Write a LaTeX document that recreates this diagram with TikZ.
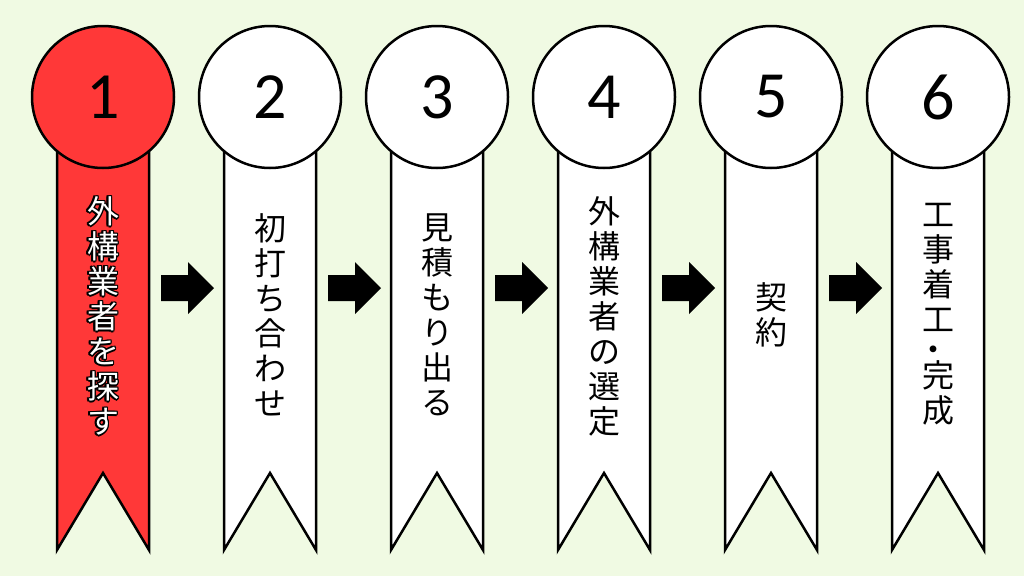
\documentclass[tikz,border=0pt]{standalone}
\usepackage{fontspec}
\newfontfamily\jp{Noto Sans CJK JP}
\newfontfamily\numfont{Carlito}
\definecolor{bg}{HTML}{F0FAE3}
\definecolor{rred}{HTML}{FF3838}
\tikzset{
  ribbon/.style={draw=black, line width=2.5pt, line join=miter},
  badge/.style={circle, draw=black, line width=2.5pt, minimum size=142pt, inner sep=0pt,
    font=\numfont\fontsize{66}{66}\selectfont},
  vlabel/.style={align=center, font=\jp\fontsize{32}{35}\selectfont, inner sep=0pt},
  flowarrow/.style={fill=black}
}
\begin{document}
\begin{tikzpicture}[x=1pt,y=-1pt]
\fill[bg] (0,0) rectangle (1024,576);
\useasboundingbox (0,0) rectangle (1024,576);
\foreach \i/\c/\fc in {1/103/rred,2/270/white,3/437/white,4/604/white,5/771/white,6/938/white}{
  \draw[ribbon, fill=\fc] (\c-46,150) -- (\c-46,550) -- (\c,473) -- (\c+46,550) -- (\c+46,150) -- cycle;
  \node[badge, fill=\fc] (n\i) at (\c,97) {\i};
}
\foreach \c in {103,270,437,604,771}{
  \fill[flowarrow] (\c+58,275) -- (\c+85,275) -- (\c+85,262) -- (\c+111,288)
    -- (\c+85,314) -- (\c+85,301) -- (\c+58,301) -- cycle;
}
\foreach \a in {0,45,...,315}{
  \node[vlabel, text=black, shift={(\a:1.6)}] at (103,316) {外\\構\\業\\者\\を\\探\\す};
}
\node[vlabel, text=white] (t1) at (103,316) {外\\構\\業\\者\\を\\探\\す};
\node[vlabel] (t2) at (270,315) {初\\打\\ち\\合\\わ\\せ};
\node[vlabel] (t3) at (437,315) {見\\積\\も\\り\\出\\る};
\node[vlabel] (t4) at (604,316) {外\\構\\業\\者\\の\\選\\定};
\node[vlabel] (t5) at (771,315) {契\\約};
\node[vlabel] (t6) at (938,314) {工\\事\\着\\工\\[-5pt]\hspace*{-10pt}・\\[-9pt]完\\成};
\end{tikzpicture}
\end{document}
